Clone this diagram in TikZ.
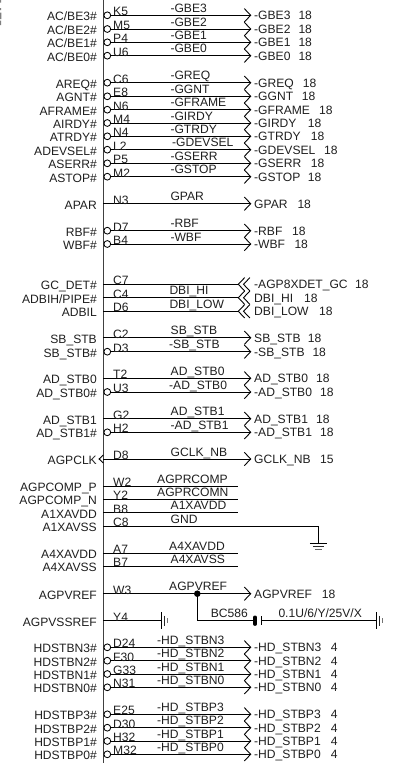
\documentclass[tikz,border=0pt]{standalone}
\usepackage{fontspec}
\setmainfont{Liberation Sans}
\newcommand{\fs}{\fontsize{12.1}{13}\selectfont}
\tikzset{
  wire/.style={draw=black,line width=0.9pt},
  chev/.style={draw=black,line width=0.9pt,line join=miter},
  bubble/.style={circle,draw=black,fill=white,line width=0.85pt,minimum size=6.8pt,inner sep=0pt},
  sideL/.style={anchor=base east,inner sep=0pt,font=\fs,text=black!88},
  txt/.style={anchor=base west,inner sep=0pt,font=\fs,text=black!88},
}
% core: #1 y, #2 pin, #3 left label, #4 net x, #5 net label
\newcommand{\core}[5]{%
  \node[sideL] (L#2) at (97,#1+5.5) {#3};
  \node[txt] (N#2) at (#4,#1-3) {#5};
  \coordinate (S#2) at (103.3,#1);
  \coordinate (E#2) at (250.7,#1);
  \coordinate (C#2) at (238.3,#1);
}
\newcommand{\pinlab}[2]{\node[txt] (P#2) at (113,#1+0.5) {#2};}
\newcommand{\rlab}[5]{% y pin label numx num
  \node[txt] (R#2) at (254,#1+4.3) {#3};
  \node[txt] (Q#2) at (#4,#1+4.3) {#5};
}
\newcommand{\head}[2]{\draw[chev] ($(E#2)+(-6.4,-6.7)$) -- (E#2) -- ($(E#2)+(-6.4,6.7)$);}
% active-low arrowed signal: y pin left netx net right numx num
\newcommand{\siginv}[8]{%
  \core{#1}{#2}{#3}{#4}{#5}
  \node[bubble] (B#2) at (107.3,#1) {};
  \draw[wire] (B#2.east) -- (E#2);
  \head{#1}{#2}
  \pinlab{#1}{#2}
  \rlab{#1}{#2}{#6}{#7}{#8}
}
\newcommand{\sigpos}[8]{%
  \core{#1}{#2}{#3}{#4}{#5}
  \draw[wire] (S#2) -- (E#2);
  \head{#1}{#2}
  \pinlab{#1}{#2}
  \rlab{#1}{#2}{#6}{#7}{#8}
}
% reverse double-chevron: y pin left netx net right numx num
\newcommand{\sigrev}[8]{%
  \core{#1}{#2}{#3}{#4}{#5}
  \draw[wire] (S#2) -- (C#2);
  \draw[chev] ($(C#2)+(6.4,-6.7)$) -- (C#2) -- ($(C#2)+(6.4,6.7)$);
  \draw[chev] ($(C#2)+(11.6,-6.7)$) -- ($(C#2)+(5.2,0)$) -- ($(C#2)+(11.6,6.7)$);
  \pinlab{#1}{#2}
  \rlab{#1}{#2}{#6}{#7}{#8}
}
% plain stub: y pin left netx net
\newcommand{\sigstub}[5]{%
  \core{#1}{#2}{#3}{#4}{#5}
  \draw[wire] (S#2) -- (C#2);
  \pinlab{#1}{#2}
}
\usetikzlibrary{calc}
\begin{document}
\begin{tikzpicture}[x=1pt,y=-1pt]
\useasboundingbox (0,0) rectangle (394,763);
\fill[white] (0,0) rectangle (394,763);
% clipped fragment at the top-left edge
\fill[black!50] (0,0) rectangle (1.2,2.5) (0,8) rectangle (1,10) (0,12.5) rectangle (1.4,19) (0,20.5) rectangle (1.2,25);
% pin column
\coordinate (bartop) at (103.3,0);
\coordinate (barbot) at (103.3,763);
\draw[draw=black!75,line width=1pt] (bartop) -- (barbot);

\siginv{15.3}{K5}{AC/BE3\#}{170.3}{-GBE3}{-GBE3}{298.3}{18}
\siginv{29}{M5}{AC/BE2\#}{170.3}{-GBE2}{-GBE2}{298.3}{18}
\siginv{42.3}{P4}{AC/BE1\#}{170.3}{-GBE1}{-GBE1}{298.3}{18}
\siginv{55.7}{U6}{AC/BE0\#}{170.3}{-GBE0}{-GBE0}{298.3}{18}

\siginv{82.7}{C6}{AREQ\#}{170.3}{-GREQ}{-GREQ}{302.7}{18}
\siginv{96.3}{E8}{AGNT\#}{170.3}{-GGNT}{-GGNT}{301.7}{18}
\siginv{109.7}{N6}{AFRAME\#}{170.3}{-GFRAME}{-GFRAME}{319}{18}
\siginv{123}{M4}{AIRDY\#}{170.3}{-GIRDY}{-GIRDY}{307.7}{18}
\siginv{136.3}{N4}{ATRDY\#}{170.3}{-GTRDY}{-GTRDY}{310.7}{18}
\siginv{149.7}{L2}{ADEVSEL\#}{172}{-GDEVSEL}{-GDEVSEL}{324}{18}
\siginv{163.3}{P5}{ASERR\#}{170.3}{-GSERR}{-GSERR}{310.7}{18}
\siginv{176.7}{M2}{ASTOP\#}{170.3}{-GSTOP}{-GSTOP}{307.7}{18}

\sigpos{203.7}{N3}{APAR}{170.3}{GPAR}{GPAR}{297.3}{18}

\siginv{230.7}{D7}{RBF\#}{170.3}{-RBF}{-RBF}{292}{18}
\siginv{244}{B4}{WBF\#}{170.3}{-WBF}{-WBF}{294.3}{18}

\sigrev{284.3}{C7}{GC\_DET\#}{169.3}{}{-AGP8XDET\_GC}{355}{18}
\sigrev{297.7}{C4}{ADBIH/PIPE\#}{169.3}{DBI\_HI}{DBI\_HI}{304}{18}
\sigrev{311.3}{D6}{ADBIL}{169.3}{DBI\_LOW}{DBI\_LOW}{319}{18}

\sigpos{337.7}{C2}{SB\_STB}{170.5}{SB\_STB}{SB\_STB}{307.7}{18}
\siginv{351.7}{D3}{SB\_STB\#}{169}{-SB\_STB}{-SB\_STB}{312.3}{18}

\sigpos{378.3}{T2}{AD\_STB0}{170.5}{AD\_STB0}{AD\_STB0}{316}{18}
\siginv{392}{U3}{AD\_STB0\#}{169}{-AD\_STB0}{-AD\_STB0}{320}{18}

\sigpos{418.7}{G2}{AD\_STB1}{170.5}{AD\_STB1}{AD\_STB1}{316}{18}
\siginv{432.3}{H2}{AD\_STB1\#}{170.5}{-AD\_STB1}{-AD\_STB1}{320}{18}

\sigpos{459}{D8}{AGPCLK}{170.5}{GCLK\_NB}{GCLK\_NB}{320}{15}
\draw[chev] ($(SD8)+(0,-4)$) -- ($(SD8)+(-4.2,0)$) -- ($(SD8)+(0,4)$);

\sigstub{486}{W2}{AGPCOMP\_P}{157}{AGPRCOMP}
\sigstub{499.3}{Y2}{AGPCOMP\_N}{157}{AGPRCOMN}
\sigstub{512.7}{B8}{A1XAVDD}{170.5}{A1XAVDD}

% GND stub to the ground symbol
\core{526}{C8}{A1XAVSS}{170.5}{GND}
\coordinate (gnd) at (318.3,543.3);
\draw[wire] (SC8) -| (gnd);
\pinlab{526}{C8}
\draw[line width=0.9pt] ($(gnd)+(-8.5,0)$) -- ($(gnd)+(8.5,0)$);
\draw[line width=0.9pt,black!85] ($(gnd)+(-5.5,3.2)$) -- ($(gnd)+(5.5,3.2)$);
\draw[line width=0.9pt,black!60] ($(gnd)+(-3.2,6.4)$) -- ($(gnd)+(3.2,6.4)$);

\sigstub{553}{A7}{A4XAVDD}{169}{A4XAVDD}
\sigstub{566.3}{B7}{A4XAVSS}{170.5}{A4XAVSS}

\sigpos{593.7}{W3}{AGPVREF}{169}{AGPVREF}{AGPVREF}{321.7}{18}

% Y4 stub with shield ground
\core{620.7}{Y4}{AGPVSSREF}{170}{}
\coordinate (yg) at (161.5,620.7);
\draw[wire] (SY4) -- (yg);
\pinlab{620.7}{Y4}
\draw[line width=0.9pt] ($(yg)+(0,-8.3)$) -- ($(yg)+(0,8.3)$);
\draw[line width=0.8pt,black!85] ($(yg)+(3,-5)$) -- ($(yg)+(3,5)$);
\draw[line width=0.8pt,black!55] ($(yg)+(5.6,-2.5)$) -- ($(yg)+(5.6,2.5)$);

% AGPVREF decoupling capacitor BC586
\node[bubble,fill=black,minimum size=5.6pt] (jn) at (197.3,593.7) {};
\coordinate (capL) at (255,620.7);
\coordinate (capR) at (261.8,620.7);
\coordinate (cg) at (376,620.7);
\draw[wire] (jn.center) |- (capL);
\draw[line width=3.2pt,line cap=round] ($(capL)+(0,-3.6)$) -- ($(capL)+(0,3.6)$);
\draw[line width=0.9pt] ($(capR)+(0,-4.5)$) -- ($(capR)+(0,4.5)$);
\draw[wire] (capR) -- (cg);
\draw[line width=0.9pt] ($(cg)+(0,-8.3)$) -- ($(cg)+(0,8.3)$);
\draw[line width=0.8pt,black!85] ($(cg)+(3.6,-5)$) -- ($(cg)+(3.6,5)$);
\draw[line width=0.8pt,black!55] ($(cg)+(6,-2.5)$) -- ($(cg)+(6,2.5)$);
\node[txt] (capname) at (210.7,617.7) {BC586};
\node[txt] (capval) at (278.3,617.7) {0.1U/6/Y/25V/X};

\siginv{647.3}{D24}{HDSTBN3\#}{157}{-HD\_STBN3}{-HD\_STBN3}{330.7}{4}
\siginv{660.7}{F30}{HDSTBN2\#}{157}{-HD\_STBN2}{-HD\_STBN2}{330.7}{4}
\siginv{674}{G33}{HDSTBN1\#}{157}{-HD\_STBN1}{-HD\_STBN1}{330.7}{4}
\siginv{687.3}{N31}{HDSTBN0\#}{157}{-HD\_STBN0}{-HD\_STBN0}{330.7}{4}

\siginv{714.3}{E25}{HDSTBP3\#}{157}{-HD\_STBP3}{-HD\_STBP3}{330.7}{4}
\siginv{727.7}{D30}{HDSTBP2\#}{157}{-HD\_STBP2}{-HD\_STBP2}{330.7}{4}
\siginv{741}{H32}{HDSTBP1\#}{157}{-HD\_STBP1}{-HD\_STBP1}{330.7}{4}
\siginv{754.3}{M32}{HDSTBP0\#}{157}{-HD\_STBP0}{-HD\_STBP0}{330.7}{4}
\end{tikzpicture}
\end{document}
